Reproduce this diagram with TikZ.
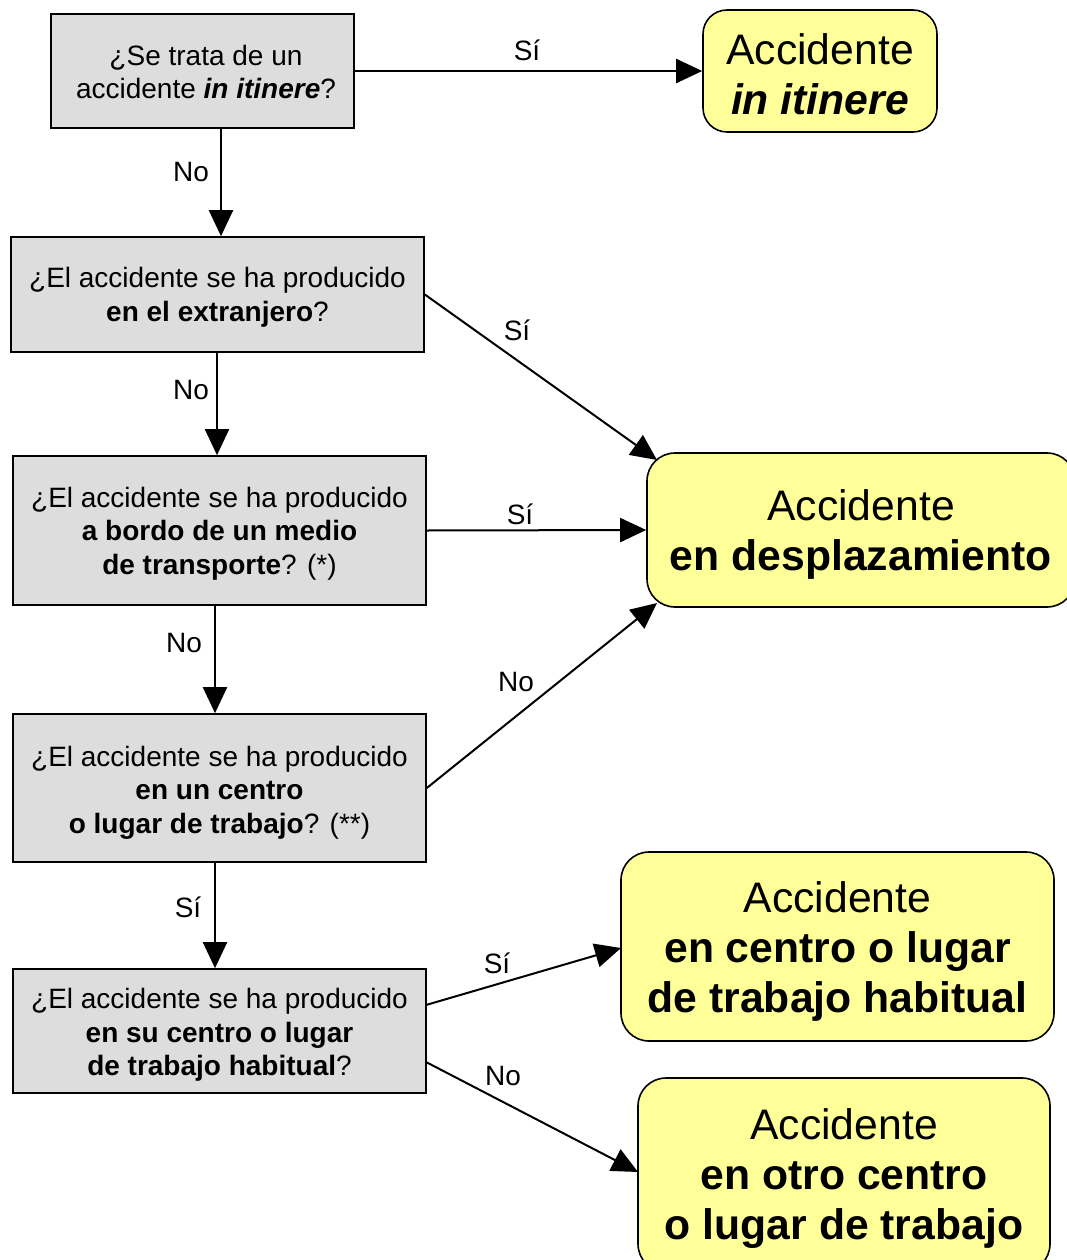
\documentclass[tikz,border=0pt]{standalone}
\usepackage{fontspec}
\setmainfont{Liberation Sans}
\usetikzlibrary{arrows.meta}
\definecolor{qgrey}{HTML}{DDDDDD}
\definecolor{ryellow}{HTML}{FFFF99}
\newcommand{\cbox}[2]{\raisebox{-#1}[0pt][0pt]{\begin{tabular}{@{}c@{}}#2\end{tabular}}}
\tikzset{
  qbox/.style={draw=black, line width=1.6pt, fill=qgrey, inner sep=0pt,
    font=\fontsize{28}{33.5}\selectfont},
  rbox/.style={draw=black, line width=1.6pt, fill=ryellow, inner sep=0pt,
    rounded corners=28pt, font=\fontsize{42.7}{50}\selectfont},
  arr/.style={line width=2pt, -{Triangle[length=26pt,width=24pt]}},
  lbl/.style={font=\fontsize{28}{30}\selectfont, inner sep=0pt}
}
\begin{document}
\begin{tikzpicture}[x=1pt,y=-1pt]
\useasboundingbox (0,0) rectangle (1067,1260);
% question boxes
\node[qbox, minimum width=303pt, minimum height=114pt] (q1) at (202.5,71) {\hspace*{7pt}\cbox{10.5pt}{¿Se trata de un\\accidente \textbf{\textit{in itinere}}?}};
\node[qbox, minimum width=413pt, minimum height=115pt] (q2) at (217.5,294.5) {\cbox{9.5pt}{¿El accidente se ha producido\\\textbf{en el extranjero}?}};
\node[qbox, minimum width=413pt, minimum height=149pt] (q3) at (219.5,530.5) {\cbox{10pt}{¿El accidente se ha producido\\\textbf{a bordo de un medio}\\\textbf{de transporte}? (*)}};
\node[qbox, minimum width=413pt, minimum height=148pt] (q4) at (219.5,788) {\cbox{11.5pt}{¿El accidente se ha producido\\\textbf{en un centro}\\\textbf{o lugar de trabajo}? (**)}};
\node[qbox, minimum width=413pt, minimum height=124pt] (q5) at (219.5,1031) {\cbox{11pt}{¿El accidente se ha producido\\\textbf{en su centro o lugar}\\\textbf{de trabajo habitual}?}};
% result boxes
\node[rbox, rounded corners=24pt, minimum width=234pt, minimum height=122pt] (r1) at (820,71) {\cbox{14.5pt}{Accidente\\\textbf{\textit{in itinere}}}};
\node[rbox, minimum width=428pt, minimum height=154pt] (r2) at (861,530) {\cbox{12pt}{Accidente\\\textbf{en desplazamiento}}};
\node[rbox, minimum width=433pt, minimum height=189pt] (r3) at (837.5,946.5) {\cbox{12pt}{Accidente\\\textbf{en centro o lugar}\\\textbf{de trabajo habitual}}};
\node[rbox, minimum width=412pt, minimum height=194pt] (r4) at (844,1175) {\cbox{10.5pt}{Accidente\\\textbf{en otro centro}\\\textbf{o lugar de trabajo}}};
% helper coordinates
\coordinate (v1) at (221,0);
\coordinate (v2) at (217,0);
\coordinate (v3) at (215,0);
\coordinate (r2a) at (657,460);
\coordinate (r2b) at (657,603);
\coordinate (q5a) at (426,1005);
\coordinate (q5b) at (426,1062);
\coordinate (r3a) at (621,948);
\coordinate (r4a) at (638,1172);
% connectors
\draw[arr] (q1.east) -- (r1.west);
\draw[arr] (q1.south -| v1) -- (q2.north -| v1);
\draw[arr] (q2.east) -- (r2a);
\draw[arr] (q2.south -| v2) -- (q3.north -| v2);
\draw[arr] (q3.east) -- (r2.west);
\draw[arr] (q3.south -| v3) -- (q4.north -| v3);
\draw[arr] (q4.east) -- (r2b);
\draw[arr] (q4.south -| v3) -- (q5.north -| v3);
\draw[arr] (q5a) -- (r3a);
\draw[arr] (q5b) -- (r4a);
% labels
\node[lbl] (l1) at (527,50) {Sí};
\node[lbl] (l2) at (191,172) {No};
\node[lbl] (l3) at (517,330) {Sí};
\node[lbl] (l4) at (191,390) {No};
\node[lbl] (l5) at (520,514) {Sí};
\node[lbl] (l6) at (184,643) {No};
\node[lbl] (l7) at (516,682) {No};
\node[lbl] (l8) at (188,907) {Sí};
\node[lbl] (l9) at (497,963) {Sí};
\node[lbl] (l10) at (503,1076) {No};
\end{tikzpicture}
\end{document}
